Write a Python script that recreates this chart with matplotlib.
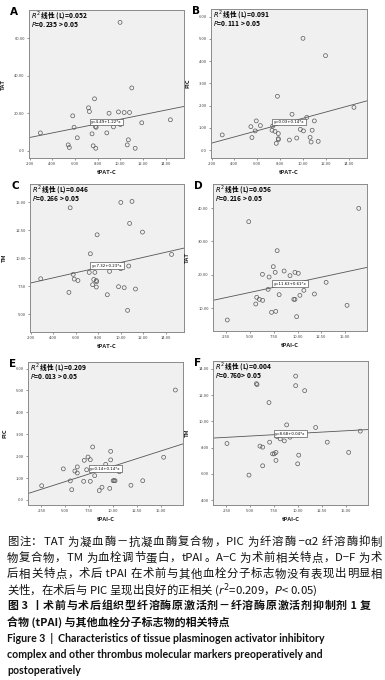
import re
import matplotlib
matplotlib.use("Agg")
import matplotlib.pyplot as plt
from matplotlib.ticker import FuncFormatter

plt.rcParams['font.family'] = ['Noto Sans CJK SC', 'DejaVu Sans']
plt.rcParams['mathtext.fontset'] = 'dejavusans'

# Data
# A-C: preoperative tPAT-C vs TAT / PIC / TM
a_x = [9.97, 11.0, 7.72, 7.19, 7.27, 9.0, 9.83, 10.33, 10.8, 5.8, 14.4, 11.88, 10.0, 5.92,
       7.8, 7.86, 9.39, 2.95, 7.5, 8.8, 6.2, 10.7, 5.4, 5.5, 7.6, 7.83, 10.6, 11.3]
a_y = [68.4, 33.4, 27.6, 22.8, 20.8, 19.9, 20.6, 20.3, 20.3, 18.5, 16.4, 14.8, 13.9, 12.4,
       12.8, 12.4, 12.6, 9.4, 8.9, 9.4, 6.8, 5.7, 3.0, 1.6, 2.5, 1.2, 3.0, 1.2]

b_x = [10.0, 11.97, 7.76, 9.04, 10.33, 14.46, 5.91, 10.99, 5.44, 6.27, 7.35, 2.93, 5.82, 7.29,
       7.55, 9.77, 10.04, 10.8, 7.84, 5.53, 7.84, 7.84, 9.45, 8.81, 10.62, 10.71, 11.33, 7.66]
b_y = [5.03, 4.25, 2.42, 1.61, 1.47, 1.92, 1.31, 1.31, 1.05, 1.10, 1.08, 0.68, 0.86, 0.89,
       0.84, 0.93, 0.86, 0.89, 0.74, 0.56, 0.51, 0.47, 0.54, 0.45, 0.57, 0.36, 0.39, 0.30]

c_x = [10.0, 10.99, 5.51, 10.78, 11.92, 7.9, 7.3, 14.5, 10.7, 10.0, 9.0, 7.2, 7.7, 5.78,
       2.9, 5.87, 6.2, 7.6, 7.83, 7.85, 7.5, 7.83, 9.8, 10.3, 11.3, 5.4, 8.8, 10.6]
c_y = [15.0, 15.09, 14.52, 13.12, 12.34, 12.1, 10.4, 10.34, 9.3, 9.06, 8.82, 8.73, 8.73, 8.55,
       8.16, 8.13, 8.0, 8.1, 8.0, 7.9, 7.63, 7.42, 7.45, 7.36, 7.24, 6.94, 6.73, 5.33]

# D-F: postoperative tPAI-C vs TAT / PIC / TM
d_x = [16.43, 4.86, 7.85, 7.44, 6.3, 7.0, 7.64, 8.58, 9.2, 9.72, 10.07, 13.0, 6.9, 10.66,
       8.06, 10.24, 11.77, 5.7, 5.97, 6.32, 9.6, 9.72, 5.6, 15.2, 7.26, 7.7, 9.9, 2.6]
d_y = [39.9, 35.9, 27.2, 22.4, 20.1, 19.3, 20.7, 21.1, 19.7, 20.7, 20.4, 17.7, 15.6, 15.3,
       14.0, 13.8, 14.2, 13.2, 12.6, 12.3, 12.6, 12.6, 11.2, 10.8, 8.7, 9.0, 7.4, 6.4]

e_x = [16.5, 7.86, 9.74, 7.37, 7.61, 6.98, 9.74, 15.28, 4.79, 6.25, 6.0, 6.25, 7.23, 9.22,
       10.64, 8.07, 2.53, 5.52, 5.67, 6.92, 7.61, 8.55, 8.83, 9.64, 10.0, 10.1, 10.2, 11.86, 13.09]
e_y = [5.02, 2.42, 2.22, 1.96, 1.84, 1.81, 1.83, 1.95, 1.42, 1.51, 1.32, 1.23, 1.38, 1.63,
       1.29, 1.11, 0.65, 0.87, 0.47, 0.85, 0.85, 0.43, 0.58, 0.53, 0.88, 0.88, 0.88, 0.67, 0.88]

f_x = [9.74, 9.74, 5.63, 5.7, 10.68, 6.95, 8.8, 11.83, 16.49, 7.79, 8.13, 8.55, 9.15, 7.02,
       2.56, 6.01, 6.29, 13.04, 7.68, 7.33, 7.5, 15.28, 10.06, 7.68, 9.95, 6.29, 4.86]
f_y = [13.45, 12.72, 12.87, 12.8, 12.34, 11.43, 9.73, 9.53, 9.25, 8.84, 8.66, 8.51, 8.79, 8.41,
       8.31, 8.11, 8.03, 8.41, 7.63, 7.52, 7.52, 7.63, 7.42, 7.02, 6.76, 6.61, 5.9]

# fit lines (intercept, slope) as printed in the boxes
fits = {"A": (4.49, 1.22), "B": (0.03, 0.14), "C": (7.32, 0.23),
        "D": (11.63, 0.61), "E": (0.14, 0.14), "F": (8.68, 0.04)}
r2_vals = {"A": "0.052", "B": "0.091", "C": "0.046", "D": "0.056", "E": "0.209", "F": "0.004"}
p_vals = {"A": "0.235 > 0.05", "B": "0.111 > 0.05", "C": "0.266 > 0.05",
          "D": "0.216 > 0.05", "E": "0.013 > 0.05", "F": "0.760> 0.05"}

xticks_pre = [2, 4, 6, 8, 10, 12, 14]
xticks_post = [2.5, 5, 7.5, 10, 12.5, 15]

# (text, bold, right edge in px if justified)
caption = [
    ("图注：TAT 为凝血酶－抗凝血酶复合物，PIC 为纤溶酶 −α2 纤溶酶抑制", False, 382),
    ("物复合物，TM 为血栓调节蛋白，tPAI。A−C 为术前相关特点，D−F 为术", False, 382),
    ("后相关特点，术后 tPAI 在术前与其他血栓分子标志物没有表现出明显相", False, 382),
    ("关性，在术后与 PIC 呈现出良好的正相关 ($r^2$=0.209，$P$< 0.05)", False, None),
    ("图 3 丨术前与术后组织型纤溶酶原激活剂－纤溶酶原激活剂抑制剂 1 复", True, 371),
    ("合物 (tPAI) 与其他血栓分子标志物的相关特点", True, None),
    ("Figure 3  |  Characteristics of tissue plasminogen activator inhibitory", True, None),
    ("complex and other thrombus molecular markers preoperatively and", True, None),
    ("postoperatively", True, None),
]

W, H = 385, 680
fig = plt.figure(figsize=(W / 100, H / 100), dpi=100)


def spss_fmt(v, pos):
    s = f"{v:.2f}"
    if s.startswith("0"):
        s = s[1:]
    return s


def panel(letter, rect, x, y, xlim, ylim, xticks, yticks, xlabel, ylabel):
    l, t, r, b = rect
    ax = fig.add_axes([l / W, 1 - b / H, (r - l) / W, (b - t) / H])
    ax.set_facecolor("#f0f0f0")
    for s in ax.spines.values():
        s.set_color("#8a8a8a")
        s.set_linewidth(0.7)
    ax.scatter(x, y, s=8, facecolors="none", edgecolors="#5a5a5a", linewidths=0.5, zorder=3)
    a0, a1 = fits[letter]
    ax.plot(xlim, [a0 + a1 * xlim[0], a0 + a1 * xlim[1]], color="#555555", lw=0.6, zorder=2)
    xm = (xlim[0] + xlim[1]) / 2
    ax.text(xm, a0 + a1 * xm, f"y={a0:.2f}+{a1:.2f}*x", fontsize=2.8, ha="center", va="center",
            family="DejaVu Sans", zorder=4,
            bbox=dict(boxstyle="square,pad=0.35", fc="white", ec="#333333", lw=0.4))
    ax.set_xlim(xlim)
    ax.set_ylim(ylim)
    ax.set_xticks(xticks)
    ax.set_yticks(yticks)
    ax.xaxis.set_major_formatter(FuncFormatter(spss_fmt))
    ax.yaxis.set_major_formatter(FuncFormatter(spss_fmt))
    ax.tick_params(labelsize=3, colors="#444444", length=1.5, width=0.4, pad=1.5)
    ax.set_xlabel(xlabel, fontsize=4.2, fontweight="bold", labelpad=2.5, color="#222222")
    ax.set_ylabel(ylabel, fontsize=4.2, fontweight="bold", labelpad=6, color="#222222")
    ax.annotate(f"$R^2$ 线性 (L)={r2_vals[letter]}", xy=(0, 1), xycoords="axes fraction",
                xytext=(1.5, -3.4), textcoords="offset points", fontsize=4.8,
                fontweight="bold", va="center", ha="left")
    ax.annotate(f"$P$={p_vals[letter]}", xy=(0, 1), xycoords="axes fraction",
                xytext=(1.5, -10.5), textcoords="offset points", fontsize=4.8,
                fontweight="bold", va="center", ha="left")
    fig.text((l - 19) / W, 1 - (t + 2) / H, letter, fontsize=7.5, fontweight="bold",
             ha="left", va="center", family="DejaVu Sans")
    return ax


pre_lim = (1.95, 15.6)
post_lim = (1.1, 17.3)

panel("A", (29, 10, 184, 158), a_x, a_y, pre_lim, (-4, 75), xticks_pre, [0, 20, 40, 60], "tPAT-C", "TAT")
panel("B", (211, 9, 367, 158), b_x, b_y, pre_lim, (-0.36, 6.35), xticks_pre, [0, 1, 2, 3, 4, 5, 6], "tPAT-C", "PIC")
panel("C", (30, 184, 184, 332), c_x, c_y, pre_lim, (3.39, 16.65), xticks_pre, [5, 7.5, 10, 12.5, 15], "tPAT-C", "TM")
panel("D", (213, 184, 367, 331), d_x, d_y, post_lim, (3.1, 47.2), xticks_post, [10, 20, 30, 40], "tPAI-C", "TAT")
panel("E", (28, 362, 183, 505), e_x, e_y, post_lim, (-0.23, 6.3), xticks_post, [0, 1, 2, 3, 4, 5, 6], "tPAI-C", "PIC")
panel("F", (213, 361, 368, 505), f_x, f_y, post_lim, (3.62, 14.6), xticks_post, [4, 6, 8, 10, 12, 14], "tPAI-C", "TM")

# caption below the panels, CJK lines justified like the journal layout
renderer = fig.canvas.get_renderer()
cjk = r'[\u3000-\u9fff\uff00-\uffef]'
x0 = 7
for i, (line, bold, right) in enumerate(caption):
    yy = 1 - (542 + 16 * i) / H
    eng = line.startswith(("Figure", "complex", "postop"))
    fam = ['Lato', 'DejaVu Sans'] if eng else ['Noto Sans CJK SC', 'DejaVu Sans']
    size = 7.6 if eng else (7.9 if bold else 8.2)
    kw = dict(fontsize=size, ha="left", va="center", family=fam,
              fontweight="bold" if bold else "normal", color="#111111")
    if right is None:
        fig.text(x0 / W, yy, line, **kw)
        continue
    tokens = re.findall(cjk + '|[^\u3000-\u9fff\uff00-\uffef]+', line)
    texts = [fig.text(0, yy, tok, **kw) for tok in tokens]
    widths = [t.get_window_extent(renderer).width for t in texts]
    gap = (right - x0 - sum(widths)) / (len(tokens) - 1)
    xx = x0
    for t, w in zip(texts, widths):
        t.set_x(xx / W)
        xx += w + gap

fig.savefig("out.png", dpi=100)
